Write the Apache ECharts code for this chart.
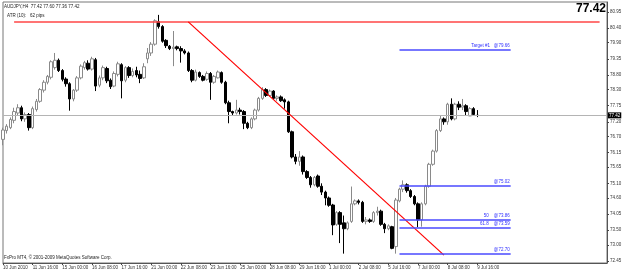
<!DOCTYPE html>
<html>
<head>
<meta charset="utf-8">
<script src="https://cdn.jsdelivr.net/npm/echarts@6/dist/echarts.min.js"></script>
<style>
html, body { margin: 0; padding: 0; background: #fff; }
#chart { width: 625px; height: 271px; }
</style>
</head>
<body>
<div id="chart"></div>
<script>
// AUDJPY H4 bars, [open, close, low, high]
const candles = [
    [76.60, 76.92, 76.40, 77.00], [76.90, 77.05, 76.80, 77.12], [77.00, 77.28, 76.95, 77.35], [77.25, 77.55, 77.15, 77.68],
    [77.50, 77.68, 77.40, 77.80], [77.68, 77.30, 77.22, 77.75], [77.30, 77.45, 77.20, 77.52], [77.45, 77.00, 76.90, 77.50],
    [77.00, 77.65, 76.95, 77.72], [77.62, 77.90, 77.55, 77.98], [77.90, 78.30, 77.85, 78.35], [78.28, 78.55, 78.20, 78.62],
    [78.55, 78.75, 78.48, 78.80], [78.72, 79.25, 78.65, 79.30], [79.05, 79.30, 78.98, 79.55], [79.30, 78.95, 78.90, 79.36],
    [78.95, 78.65, 78.58, 79.00], [78.66, 78.50, 78.40, 78.72], [78.50, 77.98, 77.58, 78.55], [77.98, 78.28, 77.90, 78.32],
    [78.28, 78.70, 78.22, 78.76], [78.70, 79.10, 78.65, 79.16], [79.05, 79.22, 78.98, 79.28], [79.20, 79.00, 78.95, 79.30],
    [79.00, 79.35, 78.95, 79.42], [79.32, 78.42, 78.25, 79.38], [78.45, 78.70, 78.38, 78.78], [78.70, 79.05, 78.62, 79.12],
    [79.02, 78.60, 78.52, 79.08], [78.62, 78.40, 78.32, 78.68], [78.42, 78.85, 78.38, 78.92], [78.82, 79.18, 78.75, 79.25],
    [79.15, 78.60, 78.00, 79.20], [78.62, 79.05, 78.55, 79.10], [79.05, 78.78, 78.70, 79.10], [78.78, 78.92, 78.72, 79.02],
    [78.95, 78.80, 78.72, 79.08], [78.82, 78.68, 78.52, 78.95], [78.70, 79.08, 78.66, 79.20], [79.35, 79.55, 79.20, 79.72],
    [79.55, 79.85, 79.45, 79.92], [79.85, 80.65, 79.80, 80.70], [80.62, 80.45, 80.38, 80.85], [80.45, 79.95, 79.90, 80.50],
    [79.98, 79.80, 79.72, 80.02], [79.78, 79.70, 79.65, 79.82], [79.70, 79.75, 79.10, 80.30], [79.76, 79.70, 79.64, 79.80],
    [79.70, 79.62, 79.22, 79.78], [79.62, 79.55, 79.50, 79.68], [79.55, 78.95, 78.90, 79.60], [78.95, 78.62, 78.55, 79.00],
    [78.62, 78.90, 78.58, 78.98], [78.88, 78.75, 78.70, 78.92], [78.75, 78.62, 78.58, 78.80], [78.65, 78.85, 78.60, 78.92],
    [78.85, 78.55, 77.95, 78.90], [78.55, 78.75, 78.50, 78.80], [78.70, 78.90, 78.68, 78.95], [78.88, 78.55, 78.50, 78.92],
    [78.55, 77.85, 77.80, 78.60], [77.85, 77.55, 77.15, 77.92], [77.55, 77.50, 77.40, 77.58], [77.50, 77.60, 77.45, 77.95],
    [77.60, 77.55, 77.45, 77.68], [77.55, 77.15, 76.95, 77.60], [77.15, 77.00, 76.95, 77.20], [77.00, 77.30, 76.95, 77.35],
    [77.30, 77.60, 77.25, 77.65], [77.60, 78.00, 77.55, 78.05], [78.00, 78.30, 77.95, 78.38], [78.30, 78.10, 78.05, 78.35],
    [78.10, 78.25, 78.05, 78.30], [78.25, 78.00, 77.95, 78.28], [78.00, 78.05, 77.92, 78.10], [78.05, 77.92, 77.88, 78.10],
    [77.95, 77.88, 77.65, 78.00], [77.88, 76.86, 76.82, 77.92], [76.86, 76.00, 75.95, 76.90], [76.00, 75.85, 75.75, 76.10],
    [75.85, 76.00, 75.70, 76.20], [76.00, 75.50, 75.40, 76.05], [75.50, 75.30, 75.25, 75.55], [75.30, 75.05, 74.95, 75.35],
    [75.05, 75.30, 75.00, 75.35], [75.35, 75.00, 74.95, 75.40], [75.00, 74.80, 74.70, 75.10], [74.80, 74.60, 74.35, 74.85],
    [74.60, 74.35, 74.30, 74.65], [74.36, 73.68, 73.33, 74.40], [73.70, 74.10, 73.65, 74.15], [74.10, 73.70, 73.06, 74.15],
    [73.75, 73.55, 72.70, 74.00], [73.55, 73.75, 73.50, 73.80], [73.80, 74.40, 73.75, 74.99], [74.40, 74.50, 74.35, 74.55],
    [74.50, 74.45, 74.38, 74.55], [74.45, 73.80, 73.75, 74.50], [73.80, 73.85, 73.70, 73.95], [73.85, 73.80, 73.75, 73.90],
    [73.80, 74.10, 73.75, 74.15], [74.10, 74.15, 74.00, 74.30], [74.15, 73.70, 73.65, 74.20], [73.70, 73.55, 73.40, 73.75],
    [73.55, 73.65, 73.50, 73.70], [73.62, 72.88, 72.85, 73.65], [72.94, 74.53, 72.70, 74.60], [74.50, 74.90, 74.45, 74.95],
    [74.90, 75.05, 74.80, 75.20], [75.05, 74.85, 74.78, 75.10], [74.85, 74.65, 74.60, 74.90], [74.65, 74.40, 74.35, 74.70],
    [74.40, 73.85, 73.60, 74.45], [73.85, 74.40, 73.62, 74.45], [74.40, 75.00, 74.35, 75.05], [75.00, 75.75, 74.95, 75.80],
    [75.75, 76.20, 75.70, 76.25], [76.20, 76.90, 76.15, 76.95], [76.90, 77.30, 76.85, 77.40], [77.30, 77.20, 77.10, 77.35],
    [77.20, 77.80, 77.10, 77.85], [77.80, 77.30, 77.25, 78.00], [77.30, 77.80, 77.25, 77.85], [77.80, 77.70, 77.60, 77.90],
    [77.70, 77.75, 77.60, 77.98], [77.75, 77.55, 77.40, 77.80], [77.40, 77.65, 77.40, 77.70], [77.65, 77.45, 77.40, 77.70],
    [77.42, 77.42, 77.36, 77.60]
];

// one label every 8 bars, first bar is 10 Jun 08:00
const tickLabels = ['10 Jun 2010', '11 Jun 16:00', '15 Jun 00:00', '16 Jun 08:00', '17 Jun 16:00', '21 Jun 00:00',
    '22 Jun 08:00', '23 Jun 16:00', '25 Jun 00:00', '28 Jun 08:00', '29 Jun 16:00', '1 Jul 00:00', '2 Jul 08:00',
    '5 Jul 16:00', '7 Jul 00:00', '8 Jul 08:00', '9 Jul 16:00'];
const priceLabels = [80.95, 80.40, 79.90, 79.35, 78.80, 78.30, 77.75, 77.20, 76.70, 76.15, 75.65, 75.10,
    74.60, 74.05, 73.50, 73.00, 72.45];

const lastPrice = 77.42;
const resistance = { from: 3, to: 161, value: 80.60 };
const trendLine = [[50, 80.61], [119, 72.65]];
const fibFrom = 107, fibTo = 137;
const fibLevels = [79.66, 75.02, 73.86, 73.59, 72.70];
const fibTexts = ['Target #1   @79.66', '@75.02', '50    @73.86', '61.8    @73.59', '@72.70'];

const slotCount = 164; // bars plus the empty shift on the right
const categories = [];
for (let i = 0; i < slotCount; i++) categories.push(String(i));
const hasLabel = (i) => i % 8 === 0 && i / 8 < tickLabels.length;

const font = 'Liberation Sans';
const small = 4.5;

const marks = [];
marks.push({
    yAxis: lastPrice,
    lineStyle: { color: '#b4b4b4', width: 1, type: 'solid' },
    label: {
        show: true, position: 'end', distance: 1, formatter: lastPrice.toFixed(2),
        backgroundColor: '#000', color: '#fff', fontSize: small, fontFamily: font, padding: [1, 1, 0, 1]
    }
});
marks.push([
    { coord: [resistance.from, resistance.value], lineStyle: { color: '#ff4646', width: 1.5, type: 'solid' } },
    { coord: [resistance.to, resistance.value] }
]);
marks.push([
    { coord: trendLine[0], lineStyle: { color: '#ff0000', width: 1.2, type: 'solid' } },
    { coord: trendLine[1] }
]);
fibLevels.forEach((v, k) => {
    marks.push([
        {
            coord: [fibFrom, v],
            lineStyle: { color: '#4a4aff', width: 1.6, type: 'solid' },
            label: {
                show: true, position: 'insideEndTop', distance: 1, formatter: fibTexts[k],
                color: '#3030ff', fontSize: small, fontFamily: font
            }
        },
        { coord: [fibTo, v] }
    ]);
});

const chart = echarts.init(document.getElementById('chart'));
chart.setOption({
    animation: false,
    backgroundColor: '#fff',
    grid: { left: 2, right: 18, top: 2, bottom: 8, show: true, borderColor: '#777', borderWidth: 1 },
    xAxis: {
        type: 'category',
        data: categories,
        boundaryGap: false,
        axisLine: { show: true, lineStyle: { color: '#555', width: 1 } },
        axisTick: { show: true, length: 2, interval: (i) => hasLabel(i), lineStyle: { color: '#444' } },
        axisLabel: {
            interval: (i) => hasLabel(i),
            formatter: (v, i) => (hasLabel(i) ? tickLabels[i / 8] : ''),
            align: 'left', margin: 2, fontSize: small, color: '#333', fontFamily: font
        },
        splitLine: { show: false }
    },
    yAxis: {
        type: 'value',
        position: 'right',
        min: 72.38,
        max: 81.29,
        axisLine: { show: true, lineStyle: { color: '#555', width: 1 } },
        axisTick: { show: true, length: 2, customValues: priceLabels, lineStyle: { color: '#444' } },
        axisLabel: {
            customValues: priceLabels, formatter: (v) => v.toFixed(2),
            margin: 3, fontSize: small, color: '#333', fontFamily: font
        },
        splitLine: { show: false }
    },
    series: [{
        type: 'candlestick',
        data: candles,
        barWidth: 3,
        itemStyle: { color: '#ffffff', color0: '#000000', borderColor: '#8a8a8a', borderColor0: '#000000', borderWidth: 1 },
        markLine: { silent: true, symbol: 'none', animation: false, data: marks }
    }],
    graphic: [
        { type: 'text', left: 4, top: 4, style: { text: 'AUDJPY,H4  77.42 77.60 77.36 77.42', fontSize: small, fontFamily: font, fill: '#222' } },
        { type: 'text', left: 7, top: 13, style: { text: 'ATR (10):   62 pips', fontSize: small, fontFamily: font, fill: '#222' } },
        { type: 'text', right: 19, top: 3, style: { text: '77.42', fontSize: 12, fontWeight: 'bold', fontFamily: font, fill: '#000' } },
        { type: 'text', left: 4, top: 255, style: { text: 'FxPro MT4, \u00a9 2001-2009 MetaQuotes Software Corp.', fontSize: small, fontFamily: font, fill: '#222' } }
    ]
});
</script>
</body>
</html>
